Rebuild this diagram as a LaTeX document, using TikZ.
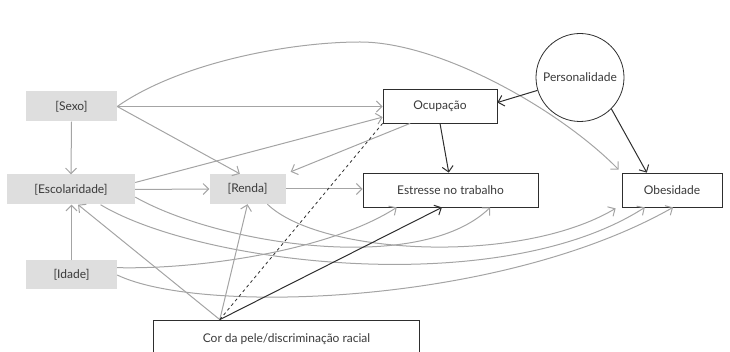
\documentclass[tikz,border=0pt]{standalone}
\usepackage{fontspec}
\setmainfont{Lato}
\usetikzlibrary{arrows.meta,calc}
\definecolor{boxgray}{HTML}{DEDEDE}
\definecolor{linegray}{HTML}{A4A4A4}
\definecolor{darkline}{HTML}{2E2E2E}
\definecolor{txt}{HTML}{3A3A3A}
\begin{document}
\begin{tikzpicture}[x=1pt,y=-1pt,
  font=\fontsize{12}{13}\selectfont, text=txt,
  gbox/.style={fill=boxgray, inner sep=0pt},
  wbox/.style={draw=darkline, line width=0.8pt, fill=white, inner sep=0pt},
  garrow/.style={draw=linegray, line width=1pt, -{Straight Barb[length=5.5pt,width=11pt]}},
  darrow/.style={draw=darkline, line width=1pt, -{Straight Barb[length=5.5pt,width=11pt]}},
  dashline/.style={draw=darkline, line width=0.8pt, dashed}
]
\useasboundingbox (0,0) rectangle (730,352);
\clip (0,0) rectangle (730,352);

\node[gbox, minimum width=91pt, minimum height=30pt] (sexo) at (71.5,106.5) {[Sexo]};
\node[gbox, minimum width=128pt, minimum height=30pt] (esc) at (71,189.5) {[Escolaridade]};
\node[gbox, minimum width=76pt, minimum height=30pt] (renda) at (247.5,189) {[Renda]};
\node[gbox, minimum width=91pt, minimum height=29pt] (idade) at (71.5,275) {[Idade]};
\node[wbox, minimum width=114pt, minimum height=34pt] (ocup) at (440,106) {Ocupação};
\node[wbox, minimum width=175pt, minimum height=34pt] (estr) at (450.5,190) {Estresse no trabalho};
\node[wbox, minimum width=100pt, minimum height=34pt] (obes) at (672,190) {Obesidade};
\node[wbox, circle, minimum size=88pt] (pers) at (580,77.5) {Personalidade};
\node[wbox, minimum width=266pt, minimum height=38pt] (cor) at (286.5,339) {Cor da pele/discriminação racial};

\coordinate (cortop) at ($(cor.north west)!0.25!(cor.north east)$);
\coordinate (archigh) at (360,42);

% gray straight connectors
\draw[garrow] (sexo.south) -- (esc.north);
\draw[garrow] (sexo.east) -- (sexo.east -| ocup.west);
\draw[garrow] (sexo.east) -- ($(renda.north west)!0.4!(renda.north east)$);
\draw[garrow] (sexo.east) .. controls +(63,-44) and +(-70,0) .. (archigh)
  .. controls +(80,0) and +(-59,-60) .. ($(obes.north west)+(-3,-3)$);
\draw[garrow] ($(esc.north east)!0.27!(esc.south east)$) -- ($(ocup.north west)!0.82!(ocup.south west)$);
\draw[garrow] (esc.east) -- (renda.west);
\draw[garrow] ($(ocup.south west)!0.24!(ocup.south east)$) -- ($(renda.north east)+(5,-2)$);
\draw[garrow] (renda.east) -- (renda.east -| estr.west);
\draw[garrow] (idade.north) -- (idade.north |- esc.south);
\draw[garrow] (cortop) -- ($(esc.south west)!0.555!(esc.south east)$);
\draw[garrow] (cortop) -- (renda.south);

% gray curved connectors
\draw[garrow] ($(esc.north east)!0.75!(esc.south east)$) .. controls +(85,48) and +(-70,68) .. ($(estr.south west)!0.726!(estr.south east)$);
\draw[garrow] ($(esc.south west)!0.73!(esc.south east)$) .. controls +(100,60) and +(-145,93) .. ($(obes.south west)!0.23!(obes.south east)$);
\draw[garrow] ($(renda.south west)!0.76!(renda.south east)$) .. controls +(53,51) and +(-96,57) .. ($(obes.south west)+(-6,1)$);
\draw[garrow] ($(idade.north east)!0.25!(idade.south east)$) .. controls +(83,2) and +(-67,43) .. ($(estr.south west)!0.194!(estr.south east)$);
\draw[garrow] ($(idade.north east)!0.5!(idade.south east)$) .. controls +(83,40) and +(-173,98) .. ($(obes.south west)!0.51!(obes.south east)$);

% dark connectors
\draw[darrow] (pers) -- ($(ocup.north east)!0.4!(ocup.south east)$);
\draw[darrow] (pers.south east) -- ($(obes.north west)!0.25!(obes.north east)$);
\draw[darrow] (ocup.south) -- ($(estr.north west)!0.49!(estr.north east)$);
\draw[darrow] (cortop) -- ($(estr.south west)!0.451!(estr.south east)$);
\draw[dashline] (cortop) -- (ocup.south west);
\end{tikzpicture}
\end{document}
